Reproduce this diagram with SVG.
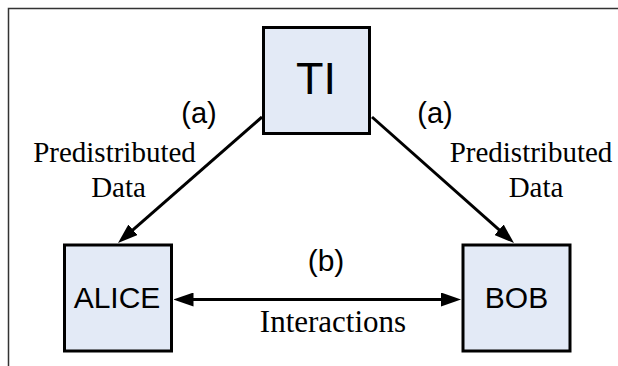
<svg xmlns="http://www.w3.org/2000/svg" width="618" height="366" viewBox="0 0 618 366">
<style>
.box{fill:#e3eaf6;stroke:#000;stroke-width:3}
.sans{font-family:"Liberation Sans",Arial,sans-serif;fill:#000;text-anchor:middle}
.serif{font-family:"Liberation Serif","Times New Roman",serif;fill:#000;text-anchor:middle}
.conn{stroke:#000;stroke-width:3;fill:none}
</style>
<defs>
<marker id="ah" viewBox="0 0 20 14" refX="10" refY="7" markerWidth="20" markerHeight="14" markerUnits="userSpaceOnUse" orient="auto-start-reverse">
<path d="M0,0 L20,7 L0,14 Z" fill="#000"/>
</marker>
</defs>
<rect width="618" height="366" fill="#fff"/>
<path d="M8.5,366 V8.5 H618" fill="none" stroke="#333" stroke-width="1.5"/>
<g id="TI">
<rect class="box" x="263.5" y="27.5" width="106" height="106"/>
<text class="sans" x="316" y="94" font-size="45">TI</text>
</g>
<g id="ALICE">
<rect class="box" x="64.5" y="245" width="107" height="106"/>
<text class="sans" x="117" y="308" font-size="30">ALICE</text>
</g>
<g id="BOB">
<rect class="box" x="463" y="245" width="107" height="106"/>
<text class="sans" x="516.5" y="308" font-size="30">BOB</text>
</g>
<g id="connectors">
<line class="conn" x1="262" y1="117" x2="125.5" y2="236.4" marker-end="url(#ah)"/>
<line class="conn" x1="372" y1="117" x2="506.5" y2="236.4" marker-end="url(#ah)"/>
<line class="conn" x1="183.5" y1="299.5" x2="451" y2="299.5" marker-start="url(#ah)" marker-end="url(#ah)"/>
</g>
<g id="labels">
<text class="sans" x="199" y="123" font-size="29">(a)</text>
<text class="sans" x="435" y="123" font-size="29">(a)</text>
<text class="serif" x="114.5" y="162" font-size="29">Predistributed</text>
<text class="serif" x="118.5" y="197" font-size="29">Data</text>
<text class="serif" x="531" y="162" font-size="29">Predistributed</text>
<text class="serif" x="536" y="197" font-size="29">Data</text>
<text class="sans" x="326" y="271" font-size="30">(b)</text>
<text class="serif" x="333" y="332" font-size="31">Interactions</text>
</g>
</svg>
